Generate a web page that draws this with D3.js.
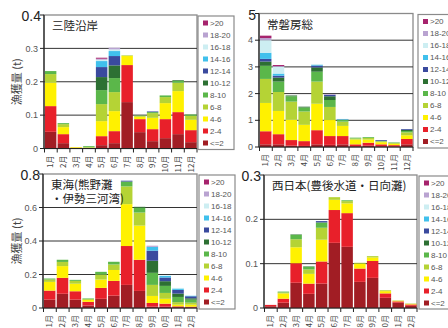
<!DOCTYPE html>
<html><head><meta charset="utf-8">
<script src="https://cdn.jsdelivr.net/npm/d3@7"></script>
<style>
html,body{margin:0;padding:0;background:#fff;}
svg{display:block;}
</style>
</head><body>
<svg id="chart" width="448" height="328"></svg>
<script>
const months = ["1月","2月","3月","4月","5月","6月","7月","8月","9月","10月","11月","12月"];
const sizeClasses = ["<=2","2-4","4-6","6-8","8-10","10-12","12-14","14-16","16-18","18-20",">20"];
const classColors = ["#a11d24","#e8202a","#fff100","#b5d335","#5bb74a","#2d7033","#3a4a9e","#40c0ec","#cdeef2","#b9a3d1","#a6236d"];

// Values per month, by size class (<=2 ... >20), in tonnes
const sanriku = [
  [0.05,0.077,0.07,0.026,0.009],
  [0.016,0.027,0.021,0.009,0.003],
  [0.001,0.001,0.002],
  [0,0,0.002,0.002,0.003],
  [0.01,0.027,0.045,0.051,0.042,0.039,0.03,0.018,0.004,0.003,0.003],
  [0.016,0.036,0.06,0.057,0.042,0.038,0.028,0.015,0.005,0.005],
  [0.139,0.111,0.027,0.002],
  [0.049,0.039,0.007,0.003,0.001],
  [0.022,0.036,0.034,0.014,0.003,0,0.002],
  [0.031,0.057,0.048,0.018,0.005],
  [0.043,0.066,0.063,0.025,0.006,0.002],
  [0.019,0.036,0.031,0.012,0.004]
];
const joban = [
  [0.1,0.49,1.06,0.9,0.49,0.16,0.1,0.23,0.47,0.08,0.09],
  [0.1,0.38,0.87,0.71,0.39,0.15,0.07,0.08,0.25,0.03,0.04],
  [0.05,0.21,0.76,0.68,0.2,0.03],
  [0.04,0.18,0.61,0.5,0.15,0.03],
  [0.1,0.53,0.99,0.83,0.37,0.16,0.07,0.03,0.03],
  [0.08,0.33,0.6,0.49,0.26,0.14,0.05,0,0,0.03],
  [0.1,0.31,0.38,0.16,0.07,0,0.01,0.02],
  [0.03,0.07,0.18,0.04,0.03],
  [0.05,0.11,0.12,0.06,0.03],
  [0.03,0.07,0.08,0.03,0.02,0,0.03],
  [0.02,0.05,0.05,0.03,0.02],
  [0.1,0.2,0.14,0.11,0.05,0.04,0.03]
];
const tokai = [
  [0.05,0.054,0.052,0.014,0.006],
  [0.085,0.095,0.07,0.025,0.013],
  [0.05,0.05,0.045,0.017,0.006],
  [0.015,0.022,0.011,0.005,0.004],
  [0.055,0.065,0.05,0.03,0.016],
  [0.074,0.088,0.065,0.033,0.016],
  [0.138,0.232,0.25,0.106,0.029,0,0.005],
  [0.102,0.186,0.204,0.078,0.03,0.004],
  [0.008,0.022,0.042,0.066,0.072,0.072,0.06,0.023,0,0.007],
  [0.008,0.018,0.029,0.035,0.042,0.028,0.022,0.01],
  [0.005,0.005,0.01,0.015,0.031,0.02,0.022,0.008,0.004],
  [0.004,0.004,0.012,0.012,0.018,0.008,0.012,0.003]
];
const nishinihon = [
  [0.004,0.003],
  [0.012,0.009,0.012,0.002,0.002],
  [0.057,0.044,0.036,0.018,0.01,0.001],
  [0.032,0.023,0.022,0.01,0.006,0.001],
  [0.055,0.05,0.049,0.027,0.012,0,0.003],
  [0.147,0.074,0.023,0.006],
  [0.138,0.076,0.022,0.005,0.002],
  [0.059,0.03,0.011,0.002],
  [0.068,0.038,0.008,0.003],
  [0.023,0.01,0.005,0.002],
  [0.012,0.003,0.001,0.001],
  [0.005,0.003,0.001,0.001]
];
const panelTitles = [["三陸沿岸"],["常磐房総"],["東海(熊野灘","・伊勢三河湾)"],["西日本(豊後水道・日向灘)"]];
const yMaxes = [0.4, 5, 0.8, 0.3];
const yTickSteps = [0.1, 1, 0.2, 0.1];
const yTickLabels = [["0","0.1","0.2","0.3","0.4"],["0","1","2","3","4","5"],["0","0.2","0.4","0.6","0.8"],["0","0.1","0.2","0.3"]];
const yTitle = "漁獲量 (t)";

const datasets = [sanriku, joban, tokai, nishinihon];
const layout = [
  {ax:44, right:197, top:15, bottom:148.5, lx:198, yTitle:true},
  {ax:259, right:413, top:13.5, bottom:147, lx:418, yTitle:false},
  {ax:43, right:197, top:174, bottom:308, lx:199, yTitle:true},
  {ax:264, right:417, top:175, bottom:308, lx:419, yTitle:false}
];

const svg = d3.select("#chart");
const latin = "'Liberation Sans', Arial, sans-serif";
const cjk = "'Noto Sans CJK JP', sans-serif";

datasets.forEach((data, i) => {
  const L = layout[i];
  const g = svg.append("g");
  const x = d3.scaleBand().domain(months).range([L.ax + 0.5, L.right]).paddingInner(0.1).paddingOuter(0.03);
  const y = d3.scaleLinear().domain([0, yMaxes[i]]).range([L.bottom, L.top]);
  const tickVals = yTickLabels[i].map((_, k) => k * yTickSteps[i]);

  // frame
  g.append("rect").attr("x", L.ax).attr("y", L.top).attr("width", L.right - L.ax).attr("height", L.bottom - L.top)
    .attr("fill", "none").attr("stroke", "#8a8a8a").attr("stroke-width", 1.3);

  // gridlines
  g.selectAll(".grid").data(tickVals.slice(1, -1)).join("line")
    .attr("x1", L.ax).attr("x2", L.right).attr("y1", d => y(d)).attr("y2", d => y(d))
    .attr("stroke", "#333").attr("stroke-width", 1);

  // stacked bars
  const rows = data.map((r, m) => Object.assign({month: months[m]}, Object.fromEntries(sizeClasses.map((c, k) => [c, r[k] || 0]))));
  const series = d3.stack().keys(sizeClasses)(rows);
  g.selectAll(".s").data(series).join("g").attr("fill", (d, k) => classColors[k])
    .selectAll("rect").data(d => d).join("rect")
    .attr("x", d => x(d.data.month)).attr("width", x.bandwidth())
    .attr("y", d => y(d[1])).attr("height", d => Math.max(0, y(d[0]) - y(d[1])));

  // y axis
  g.append("line").attr("x1", L.ax).attr("x2", L.ax).attr("y1", L.top).attr("y2", L.bottom).attr("stroke", "#222").attr("stroke-width", 1.2);
  g.selectAll(".yt").data(tickVals).join("line")
    .attr("x1", L.ax - 4).attr("x2", L.ax).attr("y1", d => y(d)).attr("y2", d => y(d)).attr("stroke", "#222");
  g.selectAll(".yl").data(tickVals.slice(0, -1)).join("text")
    .attr("x", L.ax - 6).attr("y", d => y(d)).attr("dy", "0.35em").attr("text-anchor", "end")
    .attr("font-family", latin).attr("font-size", 9).attr("fill", "#555")
    .text((d, k) => yTickLabels[i][k]);
  g.append("text").attr("x", L.ax - 3).attr("y", L.top + 6).attr("text-anchor", "end")
    .attr("font-family", latin).attr("font-size", 14).attr("fill", "#222")
    .text(yTickLabels[i][yTickLabels[i].length - 1]);

  // x axis
  g.append("line").attr("x1", L.ax).attr("x2", L.right).attr("y1", L.bottom).attr("y2", L.bottom).attr("stroke", "#222").attr("stroke-width", 1.2);
  const step = x.step();
  g.selectAll(".xt").data(d3.range(13)).join("line")
    .attr("x1", k => L.ax + 0.5 + (L.right - L.ax - 0.5) * k / 12).attr("x2", k => L.ax + 0.5 + (L.right - L.ax - 0.5) * k / 12)
    .attr("y1", L.bottom).attr("y2", L.bottom + 4).attr("stroke", "#222");
  g.selectAll(".xl").data(months).join("text")
    .attr("transform", d => `translate(${x(d) + x.bandwidth() / 2},${L.bottom + 7}) rotate(-90)`)
    .attr("text-anchor", "end").attr("dy", "0.35em")
    .attr("font-family", cjk).attr("font-size", 8).attr("fill", "#444")
    .text(d => d);

  // title
  panelTitles[i].forEach((t, k) => {
    g.append("text").attr("x", L.ax + 8).attr("y", L.top + 15 + k * 13.5)
      .attr("font-family", cjk).attr("font-size", 11.5).attr("fill", "#222").text(t);
  });

  // y title
  if (L.yTitle) {
    g.append("text").attr("transform", `translate(17,${(L.top + L.bottom) / 2}) rotate(-90)`)
      .attr("text-anchor", "middle").attr("dy", "0.35em")
      .attr("font-family", cjk).attr("font-size", 11).attr("fill", "#444").text(yTitle);
  }

  // legend
  const lg = g.append("g");
  lg.append("rect").attr("x", L.lx).attr("y", L.top + 1).attr("width", 36).attr("height", L.bottom - L.top)
    .attr("fill", "#fff").attr("stroke", "#8a8a8a").attr("stroke-width", 1.2);
  const items = sizeClasses.map((c, k) => ({c, col: classColors[k]})).reverse();
  const it = lg.selectAll(".li").data(items).join("g")
    .attr("transform", (d, k) => `translate(${L.lx + 5},${L.top + 8 + k * 12})`);
  it.append("rect").attr("x", 0).attr("y", -2.5).attr("width", 5).attr("height", 5).attr("fill", d => d.col);
  it.append("text").attr("x", 7).attr("dy", "0.35em").attr("font-family", latin).attr("font-size", 8)
    .attr("fill", "#555").text(d => d.c);
});
</script>
</body></html>
